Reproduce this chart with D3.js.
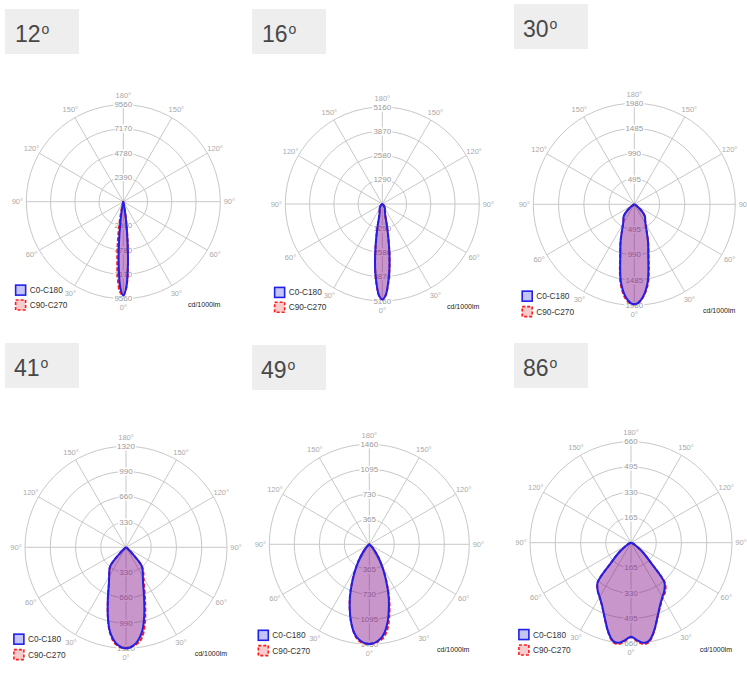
<!DOCTYPE html>
<html><head><meta charset="utf-8">
<script src="https://cdn.jsdelivr.net/npm/d3@7"></script>
<style>
body{margin:0;background:#fff;}
svg{display:block;font-family:"Liberation Sans",Arial,sans-serif;}
</style>
</head><body>
<svg id="chart" width="747" height="675"></svg>
<script>
// ---- data ----
const gammas = [0,2,4,6,8,10,12,15,20,25,30,35,40,45,50,55,60,65,70,75,80,85,90];
const titles = ["12","16","30","41","49","86"];
const maxValues = [9560,5160,1980,1320,1460,660];
const tickLabels = [
  ["2390","4780","7170","9560"],
  ["1290","2580","3870","5160"],
  ["495","990","1485","1980"],
  ["330","660","990","1320"],
  ["365","730","1095","1460"],
  ["165","330","495","660"]
];
const angleLabels = [0,30,60,90,120,150,180];
const seriesNames = ["C0-C180","C90-C270"];
const unitLabel = "cd/1000lm";

// beam 12
const b12_c0c180 = [9250,8450,6420,4060,2140,930,340,100,40,25,15,10,8,5,3,2,1,0,0,0,0,0,0];
const b12_c90    = [9250,8500,6500,4100,2150,940,340,100,40,25,15,10,8,5,3,2,1,0,0,0,0,0,0];
const b12_c270   = [9250,8900,7700,5700,3800,2200,1100,340,80,30,15,10,8,5,3,2,1,0,0,0,0,0,0];
// beam 16
const b16_c0c180 = [5080,4880,4300,3600,2750,1900,1200,600,420,330,280,220,160,110,70,40,20,10,5,0,0,0,0];
const b16_c90    = [5080,4890,4320,3580,2700,1850,1150,580,400,320,270,210,150,100,60,35,18,8,4,0,0,0,0];
const b16_c270   = [5080,4890,4320,3580,2700,1850,1150,580,400,320,270,210,150,100,60,35,18,8,4,0,0,0,0];
// beam 30
const b30_c0c180 = [1960,1940,1880,1790,1670,1530,1330,1060,790,570,440,370,330,260,150,60,20,8,3,0,0,0,0];
const b30_c90    = [1960,1945,1890,1800,1690,1560,1370,1090,795,570,440,370,330,260,150,60,20,8,3,0,0,0,0];
const b30_c270   = [1960,1950,1905,1825,1705,1560,1360,1070,790,570,440,370,330,260,150,60,20,8,3,0,0,0,0];
// beam 41
const b41_c0c180 = [1320,1315,1290,1260,1210,1150,1070,920,690,530,440,380,320,120,20,5,0,0,0,0,0,0,0];
const b41_c90    = [1320,1315,1295,1275,1250,1200,1120,970,730,560,460,395,325,120,20,5,0,0,0,0,0,0,0];
const b41_c270   = [1320,1318,1300,1275,1230,1160,1075,920,690,530,440,380,320,120,20,5,0,0,0,0,0,0,0];
// beam 49
const b49_c0c180 = [1455,1450,1430,1400,1360,1300,1220,1080,830,580,380,230,120,50,15,5,0,0,0,0,0,0,0];
const b49_c90    = [1455,1450,1435,1420,1390,1340,1270,1120,850,585,380,230,120,50,15,5,0,0,0,0,0,0,0];
const b49_c270   = [1455,1452,1445,1420,1375,1305,1220,1080,830,580,380,230,120,50,15,5,0,0,0,0,0,0,0];
// beam 86
const b86_c0c180 = [615,625,642,655,660,655,635,590,510,450,410,380,340,180,110,60,30,15,5,0,0,0,0];
const b86_c90    = [618,630,648,662,668,662,640,592,512,455,415,390,345,180,110,60,30,15,5,0,0,0,0];
const b86_c270   = [618,630,648,662,668,662,640,592,510,450,410,380,340,180,110,60,30,15,5,0,0,0,0];

const beams = [
  {blue:b12_c0c180, redR:b12_c90, redL:b12_c270},
  {blue:b16_c0c180, redR:b16_c90, redL:b16_c270},
  {blue:b30_c0c180, redR:b30_c90, redL:b30_c270},
  {blue:b41_c0c180, redR:b41_c90, redL:b41_c270},
  {blue:b49_c0c180, redR:b49_c90, redL:b49_c270},
  {blue:b86_c0c180, redR:b86_c90, redL:b86_c270}
];

// ---- layout ----
const layout = [
  {cx:123.3, cy:201.7, R:97,  bx:5,   by:9,   tx:15},
  {cx:382.3, cy:204,   R:97,  bx:252, by:9,   tx:262},
  {cx:634.3, cy:204.3, R:101, bx:514, by:4,   tx:523},
  {cx:126,   cy:547.3, R:101, bx:5,   by:343, tx:14},
  {cx:369.3, cy:544.3, R:100, bx:252, by:345, tx:261},
  {cx:631,   cy:542.7, R:101, bx:514, by:343, tx:523}
];

const svg = d3.select("#chart");
const rad = Math.PI/180;

function buildPoints(left, right){
  const lastL = d3.max(left.map((v,i)=> v>0 ? i : 0));
  const lastR = d3.max(right.map((v,i)=> v>0 ? i : 0));
  const pts = [{a:0, v:0}];
  for(let i=lastL;i>=0;i--) pts.push({a:Math.PI + gammas[i]*rad, v:left[i]});
  for(let i=1;i<=lastR;i++) pts.push({a:Math.PI - gammas[i]*rad, v:right[i]});
  return pts;
}

layout.forEach((L,k)=>{
  // title box
  svg.append("rect").attr("x",L.bx).attr("y",L.by).attr("width",74).attr("height",45).attr("fill","#eeeeee");
  const t = svg.append("text").attr("x",L.tx).attr("y",L.by+33)
    .attr("font-size",23).attr("fill","#484848");
  t.append("tspan").text(titles[k]);
  t.append("tspan").attr("font-size",14).attr("dy",-8).attr("dx",1).text("o");

  const g = svg.append("g").attr("transform",`translate(${L.cx},${L.cy})`);
  const r = d3.scaleLinear().domain([0,maxValues[k]]).range([0,L.R]);
  const ticks = tickLabels[k].map(Number);

  g.selectAll("circle.ring").data(ticks).join("circle")
    .attr("r",d=>r(d)).attr("fill","none").attr("stroke","#c8c8c8").attr("stroke-width",1);
  g.selectAll("line.spoke").data(d3.range(0,360,30)).join("line")
    .attr("x1",0).attr("y1",0)
    .attr("x2",d=>L.R*Math.sin(d*rad)).attr("y2",d=>L.R*Math.cos(d*rad))
    .attr("stroke","#c8c8c8").attr("stroke-width",1);

  // angle labels
  const dLab = L.R + 9;
  const angItems = [];
  angleLabels.forEach(a=>{
    angItems.push({a:a, s:1});
    if(a>0 && a<180) angItems.push({a:a, s:-1});
  });
  g.selectAll("text.ang").data(angItems).join("text")
    .attr("x",d=>d.s*dLab*Math.sin(d.a*rad)).attr("y",d=>dLab*Math.cos(d.a*rad))
    .attr("text-anchor","middle").attr("dominant-baseline","central")
    .attr("font-size",7.5).attr("fill","#aaaaaa").text(d=>d.a+"°");

  // tick labels (top and bottom)
  const tk = [];
  tickLabels[k].forEach(s=>{ tk.push({s:s, v:+s, dir:-1}); tk.push({s:s, v:+s, dir:1}); });
  g.selectAll("text.tick").data(tk).join("text")
    .attr("x",0).attr("y",d=>d.dir*r(d.v))
    .attr("text-anchor","middle").attr("dominant-baseline","central")
    .attr("font-size",8).attr("fill","#999")
    .attr("stroke","#fff").attr("stroke-width",3).attr("paint-order","stroke")
    .text(d=>d.s);

  const line = d3.lineRadial().angle(d=>d.a).radius(d=>r(d.v))
    .curve(d3.curveCatmullRomClosed.alpha(0.5));
  const B = beams[k];
  g.append("path").attr("d",line(buildPoints(B.redL,B.redR)))
    .attr("fill","rgba(255,0,0,0.25)").attr("stroke","#ff1a1a").attr("stroke-width",2)
    .attr("stroke-dasharray","4,2");
  g.append("path").attr("d",line(buildPoints(B.blue,B.blue)))
    .attr("fill","rgba(0,0,255,0.21)").attr("stroke","#2020e6").attr("stroke-width",2);

  // legend
  const lx = -1.11*L.R, ly1 = 0.86*L.R, ly2 = 1.013*L.R;
  g.append("rect").attr("x",lx).attr("y",ly1).attr("width",10).attr("height",10)
    .attr("fill","#c4c4f6").attr("stroke","#2020e6").attr("stroke-width",1.6);
  g.append("rect").attr("x",lx).attr("y",ly2).attr("width",10).attr("height",10)
    .attr("fill","#f8cccc").attr("stroke","#ff1a1a").attr("stroke-width",1.6).attr("stroke-dasharray","3,2");
  g.append("text").attr("x",lx+14).attr("y",ly1+5).attr("dominant-baseline","central")
    .attr("font-size",8.3).attr("fill","#333").text(seriesNames[0]);
  g.append("text").attr("x",lx+14).attr("y",ly2+5).attr("dominant-baseline","central")
    .attr("font-size",8.3).attr("fill","#333").text(seriesNames[1]);
  g.append("text").attr("x",1.0*L.R).attr("y",1.055*L.R).attr("text-anchor","end")
    .attr("dominant-baseline","central").attr("font-size",7).attr("fill","#222").text(unitLabel);
});
</script>
</body></html>
